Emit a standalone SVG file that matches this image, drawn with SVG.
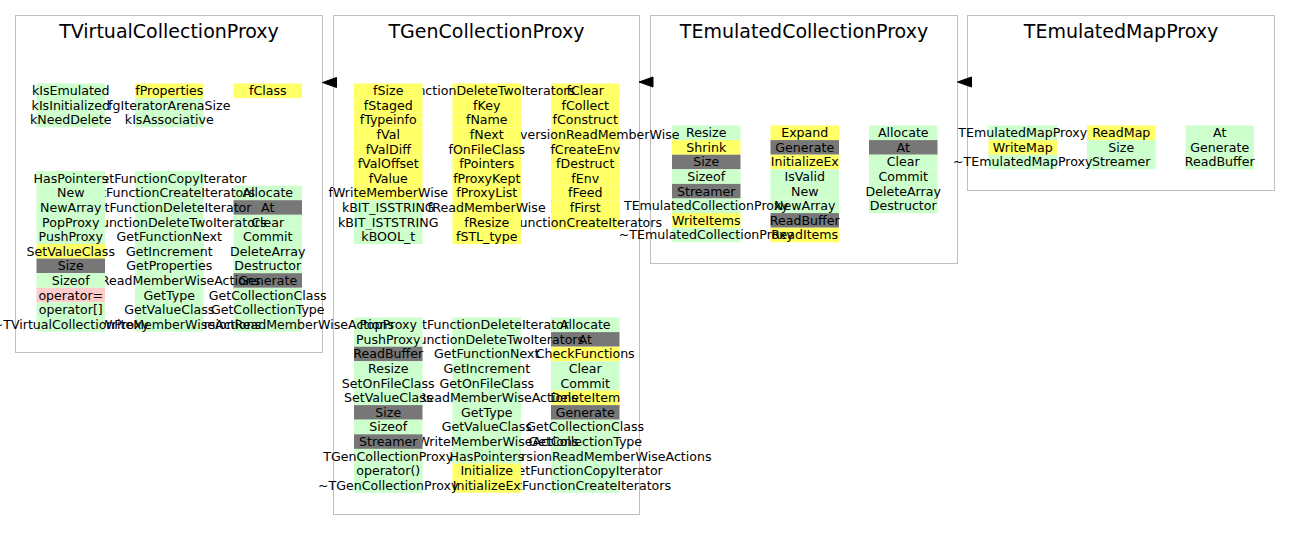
<svg xmlns="http://www.w3.org/2000/svg" width="1291" height="541" viewBox="0 0 1291 541">
<style>
.cl{fill:#ffffff;stroke:#bfbfbf;stroke-width:1}
.t{font-family:"DejaVu Sans",sans-serif;font-size:19px;text-anchor:middle;fill:#000}
text{font-family:"DejaVu Sans",sans-serif;font-size:12.6px;text-anchor:middle;fill:#000}
.g{fill:#ccffcc}
.y{fill:#ffff66}
.k{fill:#777777}
.p{fill:#ffcccc}
.ah{fill:#000;stroke:#000;stroke-width:1}
</style>
<rect width="1291" height="541" fill="#ffffff"/>
<g id="clusters">
<g id="cluster_TVirtualCollectionProxy"><rect class="cl" x="15.5" y="15.5" width="307" height="337"/><text class="t" x="169" y="37.5">TVirtualCollectionProxy</text></g>
<g id="cluster_TGenCollectionProxy"><rect class="cl" x="333.5" y="15.5" width="306" height="499"/><text class="t" x="486.5" y="37.5">TGenCollectionProxy</text></g>
<g id="cluster_TEmulatedCollectionProxy"><rect class="cl" x="650.5" y="15.5" width="307" height="248"/><text class="t" x="804" y="37.5">TEmulatedCollectionProxy</text></g>
<g id="cluster_TEmulatedMapProxy"><rect class="cl" x="967.5" y="15.5" width="307" height="175"/><text class="t" x="1121" y="37.5">TEmulatedMapProxy</text></g>
</g>

<!-- TEmulatedMapProxy -->
<g id="m_At" transform="translate(1185.5,125.5)"><rect class="g" width="68.5" height="14.6"/><text x="34.25" y="11.7">At</text></g>
<g id="m_Generate" transform="translate(1185.5,140.1)"><rect class="g" width="68.5" height="14.6"/><text x="34.25" y="11.7">Generate</text></g>
<g id="m_ReadBuffer" transform="translate(1185.5,154.7)"><rect class="g" width="68.5" height="14.6"/><text x="34.25" y="11.7">ReadBuffer</text></g>
<g id="m_ReadMap" transform="translate(1087,125.5)"><rect class="y" width="68.5" height="14.6"/><text x="34.25" y="11.7">ReadMap</text></g>
<g id="m_Size" transform="translate(1087,140.1)"><rect class="g" width="68.5" height="14.6"/><text x="34.25" y="11.7">Size</text></g>
<g id="m_Streamer" transform="translate(1087,154.7)"><rect class="g" width="68.5" height="14.6"/><text x="34.25" y="11.7">Streamer</text></g>
<g id="m_TEmulatedMapProxy" transform="translate(988.5,125.5)"><rect class="g" width="68.5" height="14.6"/><text x="34.25" y="11.7">TEmulatedMapProxy</text></g>
<g id="m_WriteMap" transform="translate(988.5,140.1)"><rect class="y" width="68.5" height="14.6"/><text x="34.25" y="11.7">WriteMap</text></g>
<g id="m_dtor" transform="translate(988.5,154.7)"><rect class="g" width="68.5" height="14.6"/><text x="34.25" y="11.7">~TEmulatedMapProxy</text></g>

<!-- TEmulatedCollectionProxy -->
<g id="e_Allocate" transform="translate(869,125.5)"><rect class="g" width="68.5" height="14.6"/><text x="34.25" y="11.7">Allocate</text></g>
<g id="e_At" transform="translate(869,140.1)"><rect class="k" width="68.5" height="14.6"/><text x="34.25" y="11.7">At</text></g>
<g id="e_Clear" transform="translate(869,154.7)"><rect class="g" width="68.5" height="14.6"/><text x="34.25" y="11.7">Clear</text></g>
<g id="e_Commit" transform="translate(869,169.3)"><rect class="g" width="68.5" height="14.6"/><text x="34.25" y="11.7">Commit</text></g>
<g id="e_DeleteArray" transform="translate(869,183.9)"><rect class="g" width="68.5" height="14.6"/><text x="34.25" y="11.7">DeleteArray</text></g>
<g id="e_Destructor" transform="translate(869,198.5)"><rect class="g" width="68.5" height="14.6"/><text x="34.25" y="11.7">Destructor</text></g>
<g id="e_Expand" transform="translate(770.5,125.5)"><rect class="y" width="68.5" height="14.6"/><text x="34.25" y="11.7">Expand</text></g>
<g id="e_Generate" transform="translate(770.5,140.1)"><rect class="k" width="68.5" height="14.6"/><text x="34.25" y="11.7">Generate</text></g>
<g id="e_InitializeEx" transform="translate(770.5,154.7)"><rect class="y" width="68.5" height="14.6"/><text x="34.25" y="11.7">InitializeEx</text></g>
<g id="e_IsValid" transform="translate(770.5,169.3)"><rect class="g" width="68.5" height="14.6"/><text x="34.25" y="11.7">IsValid</text></g>
<g id="e_New" transform="translate(770.5,183.9)"><rect class="g" width="68.5" height="14.6"/><text x="34.25" y="11.7">New</text></g>
<g id="e_NewArray" transform="translate(770.5,198.5)"><rect class="g" width="68.5" height="14.6"/><text x="34.25" y="11.7">NewArray</text></g>
<g id="e_ReadBuffer" transform="translate(770.5,213.1)"><rect class="k" width="68.5" height="14.6"/><text x="34.25" y="11.7">ReadBuffer</text></g>
<g id="e_ReadItems" transform="translate(770.5,227.7)"><rect class="y" width="68.5" height="14.6"/><text x="34.25" y="11.7">ReadItems</text></g>
<g id="e_Resize" transform="translate(672,125.5)"><rect class="g" width="68.5" height="14.6"/><text x="34.25" y="11.7">Resize</text></g>
<g id="e_Shrink" transform="translate(672,140.1)"><rect class="y" width="68.5" height="14.6"/><text x="34.25" y="11.7">Shrink</text></g>
<g id="e_Size" transform="translate(672,154.7)"><rect class="k" width="68.5" height="14.6"/><text x="34.25" y="11.7">Size</text></g>
<g id="e_Sizeof" transform="translate(672,169.3)"><rect class="g" width="68.5" height="14.6"/><text x="34.25" y="11.7">Sizeof</text></g>
<g id="e_Streamer" transform="translate(672,183.9)"><rect class="k" width="68.5" height="14.6"/><text x="34.25" y="11.7">Streamer</text></g>
<g id="e_TEmulatedCollectionProxy" transform="translate(672,198.5)"><rect class="g" width="68.5" height="14.6"/><text x="34.25" y="11.7">TEmulatedCollectionProxy</text></g>
<g id="e_WriteItems" transform="translate(672,213.1)"><rect class="y" width="68.5" height="14.6"/><text x="34.25" y="11.7">WriteItems</text></g>
<g id="e_dtor" transform="translate(672,227.7)"><rect class="g" width="68.5" height="14.6"/><text x="34.25" y="11.7">~TEmulatedCollectionProxy</text></g>

<!-- TGenCollectionProxy top, col3 -->
<g id="g_fClear" transform="translate(551,83.5)"><rect class="y" width="68.5" height="14.6"/><text x="34.25" y="11.7">fClear</text></g>
<g id="g_fCollect" transform="translate(551,98.1)"><rect class="y" width="68.5" height="14.6"/><text x="34.25" y="11.7">fCollect</text></g>
<g id="g_fConstruct" transform="translate(551,112.7)"><rect class="y" width="68.5" height="14.6"/><text x="34.25" y="11.7">fConstruct</text></g>
<g id="g_fConversionReadMemberWise" transform="translate(551,127.3)"><rect class="y" width="68.5" height="14.6"/><text x="34.25" y="11.7">fConversionReadMemberWise</text></g>
<g id="g_fCreateEnv" transform="translate(551,141.9)"><rect class="y" width="68.5" height="14.6"/><text x="34.25" y="11.7">fCreateEnv</text></g>
<g id="g_fDestruct" transform="translate(551,156.5)"><rect class="y" width="68.5" height="14.6"/><text x="34.25" y="11.7">fDestruct</text></g>
<g id="g_fEnv" transform="translate(551,171.1)"><rect class="y" width="68.5" height="14.6"/><text x="34.25" y="11.7">fEnv</text></g>
<g id="g_fFeed" transform="translate(551,185.7)"><rect class="y" width="68.5" height="14.6"/><text x="34.25" y="11.7">fFeed</text></g>
<g id="g_fFirst" transform="translate(551,200.3)"><rect class="y" width="68.5" height="14.6"/><text x="34.25" y="11.7">fFirst</text></g>
<g id="g_fFunctionCreateIterators" transform="translate(551,214.9)"><rect class="y" width="68.5" height="14.6"/><text x="34.25" y="11.7">fFunctionCreateIterators</text></g>
<!-- top col2 -->
<g id="g_fFunctionDeleteTwoIterators" transform="translate(452.5,83.5)"><rect class="y" width="68.5" height="14.6"/><text x="34.25" y="11.7">fFunctionDeleteTwoIterators</text></g>
<g id="g_fKey" transform="translate(452.5,98.1)"><rect class="y" width="68.5" height="14.6"/><text x="34.25" y="11.7">fKey</text></g>
<g id="g_fName" transform="translate(452.5,112.7)"><rect class="y" width="68.5" height="14.6"/><text x="34.25" y="11.7">fName</text></g>
<g id="g_fNext" transform="translate(452.5,127.3)"><rect class="y" width="68.5" height="14.6"/><text x="34.25" y="11.7">fNext</text></g>
<g id="g_fOnFileClass" transform="translate(452.5,141.9)"><rect class="y" width="68.5" height="14.6"/><text x="34.25" y="11.7">fOnFileClass</text></g>
<g id="g_fPointers" transform="translate(452.5,156.5)"><rect class="y" width="68.5" height="14.6"/><text x="34.25" y="11.7">fPointers</text></g>
<g id="g_fProxyKept" transform="translate(452.5,171.1)"><rect class="y" width="68.5" height="14.6"/><text x="34.25" y="11.7">fProxyKept</text></g>
<g id="g_fProxyList" transform="translate(452.5,185.7)"><rect class="y" width="68.5" height="14.6"/><text x="34.25" y="11.7">fProxyList</text></g>
<g id="g_fReadMemberWise" transform="translate(452.5,200.3)"><rect class="y" width="68.5" height="14.6"/><text x="34.25" y="11.7">fReadMemberWise</text></g>
<g id="g_fResize" transform="translate(452.5,214.9)"><rect class="y" width="68.5" height="14.6"/><text x="34.25" y="11.7">fResize</text></g>
<g id="g_fSTL_type" transform="translate(452.5,229.5)"><rect class="y" width="68.5" height="14.6"/><text x="34.25" y="11.7">fSTL_type</text></g>
<!-- top col1 -->
<g id="g_fSize" transform="translate(354,83.5)"><rect class="y" width="68.5" height="14.6"/><text x="34.25" y="11.7">fSize</text></g>
<g id="g_fStaged" transform="translate(354,98.1)"><rect class="y" width="68.5" height="14.6"/><text x="34.25" y="11.7">fStaged</text></g>
<g id="g_fTypeinfo" transform="translate(354,112.7)"><rect class="y" width="68.5" height="14.6"/><text x="34.25" y="11.7">fTypeinfo</text></g>
<g id="g_fVal" transform="translate(354,127.3)"><rect class="y" width="68.5" height="14.6"/><text x="34.25" y="11.7">fVal</text></g>
<g id="g_fValDiff" transform="translate(354,141.9)"><rect class="y" width="68.5" height="14.6"/><text x="34.25" y="11.7">fValDiff</text></g>
<g id="g_fValOffset" transform="translate(354,156.5)"><rect class="y" width="68.5" height="14.6"/><text x="34.25" y="11.7">fValOffset</text></g>
<g id="g_fValue" transform="translate(354,171.1)"><rect class="y" width="68.5" height="14.6"/><text x="34.25" y="11.7">fValue</text></g>
<g id="g_fWriteMemberWise" transform="translate(354,185.7)"><rect class="y" width="68.5" height="14.6"/><text x="34.25" y="11.7">fWriteMemberWise</text></g>
<g id="g_kBIT_ISSTRING" transform="translate(354,200.3)"><rect class="g" width="68.5" height="14.6"/><text x="34.25" y="11.7">kBIT_ISSTRING</text></g>
<g id="g_kBIT_ISTSTRING" transform="translate(354,214.9)"><rect class="g" width="68.5" height="14.6"/><text x="34.25" y="11.7">kBIT_ISTSTRING</text></g>
<g id="g_kBOOL_t" transform="translate(354,229.5)"><rect class="g" width="68.5" height="14.6"/><text x="34.25" y="11.7">kBOOL_t</text></g>

<!-- TGenCollectionProxy bottom col3 -->
<g id="g_Allocate" transform="translate(551,317.5)"><rect class="g" width="68.5" height="14.6"/><text x="34.25" y="11.7">Allocate</text></g>
<g id="g_At" transform="translate(551,332.1)"><rect class="k" width="68.5" height="14.6"/><text x="34.25" y="11.7">At</text></g>
<g id="g_CheckFunctions" transform="translate(551,346.7)"><rect class="y" width="68.5" height="14.6"/><text x="34.25" y="11.7">CheckFunctions</text></g>
<g id="g_Clear" transform="translate(551,361.3)"><rect class="g" width="68.5" height="14.6"/><text x="34.25" y="11.7">Clear</text></g>
<g id="g_Commit" transform="translate(551,375.9)"><rect class="g" width="68.5" height="14.6"/><text x="34.25" y="11.7">Commit</text></g>
<g id="g_DeleteItem" transform="translate(551,390.5)"><rect class="y" width="68.5" height="14.6"/><text x="34.25" y="11.7">DeleteItem</text></g>
<g id="g_Generate" transform="translate(551,405.1)"><rect class="k" width="68.5" height="14.6"/><text x="34.25" y="11.7">Generate</text></g>
<g id="g_GetCollectionClass" transform="translate(551,419.7)"><rect class="g" width="68.5" height="14.6"/><text x="34.25" y="11.7">GetCollectionClass</text></g>
<g id="g_GetCollectionType" transform="translate(551,434.3)"><rect class="g" width="68.5" height="14.6"/><text x="34.25" y="11.7">GetCollectionType</text></g>
<g id="g_GetConversionReadMemberWiseActions" transform="translate(551,448.9)"><rect class="g" width="68.5" height="14.6"/><text x="34.25" y="11.7">GetConversionReadMemberWiseActions</text></g>
<g id="g_GetFunctionCopyIterator" transform="translate(551,463.5)"><rect class="g" width="68.5" height="14.6"/><text x="34.25" y="11.7">GetFunctionCopyIterator</text></g>
<g id="g_GetFunctionCreateIterators" transform="translate(551,478.1)"><rect class="g" width="68.5" height="14.6"/><text x="34.25" y="11.7">GetFunctionCreateIterators</text></g>
<!-- bottom col2 -->
<g id="g_GetFunctionDeleteIterator" transform="translate(452.5,317.5)"><rect class="g" width="68.5" height="14.6"/><text x="34.25" y="11.7">GetFunctionDeleteIterator</text></g>
<g id="g_GetFunctionDeleteTwoIterators" transform="translate(452.5,332.1)"><rect class="g" width="68.5" height="14.6"/><text x="34.25" y="11.7">GetFunctionDeleteTwoIterators</text></g>
<g id="g_GetFunctionNext" transform="translate(452.5,346.7)"><rect class="g" width="68.5" height="14.6"/><text x="34.25" y="11.7">GetFunctionNext</text></g>
<g id="g_GetIncrement" transform="translate(452.5,361.3)"><rect class="g" width="68.5" height="14.6"/><text x="34.25" y="11.7">GetIncrement</text></g>
<g id="g_GetOnFileClass" transform="translate(452.5,375.9)"><rect class="g" width="68.5" height="14.6"/><text x="34.25" y="11.7">GetOnFileClass</text></g>
<g id="g_GetReadMemberWiseActions" transform="translate(452.5,390.5)"><rect class="g" width="68.5" height="14.6"/><text x="34.25" y="11.7">GetReadMemberWiseActions</text></g>
<g id="g_GetType" transform="translate(452.5,405.1)"><rect class="g" width="68.5" height="14.6"/><text x="34.25" y="11.7">GetType</text></g>
<g id="g_GetValueClass" transform="translate(452.5,419.7)"><rect class="g" width="68.5" height="14.6"/><text x="34.25" y="11.7">GetValueClass</text></g>
<g id="g_GetWriteMemberWiseActions" transform="translate(452.5,434.3)"><rect class="g" width="68.5" height="14.6"/><text x="34.25" y="11.7">GetWriteMemberWiseActions</text></g>
<g id="g_HasPointers" transform="translate(452.5,448.9)"><rect class="g" width="68.5" height="14.6"/><text x="34.25" y="11.7">HasPointers</text></g>
<g id="g_Initialize" transform="translate(452.5,463.5)"><rect class="y" width="68.5" height="14.6"/><text x="34.25" y="11.7">Initialize</text></g>
<g id="g_InitializeEx" transform="translate(452.5,478.1)"><rect class="y" width="68.5" height="14.6"/><text x="34.25" y="11.7">InitializeEx</text></g>
<!-- bottom col1 -->
<g id="g_PopProxy" transform="translate(354,317.5)"><rect class="g" width="68.5" height="14.6"/><text x="34.25" y="11.7">PopProxy</text></g>
<g id="g_PushProxy" transform="translate(354,332.1)"><rect class="g" width="68.5" height="14.6"/><text x="34.25" y="11.7">PushProxy</text></g>
<g id="g_ReadBuffer" transform="translate(354,346.7)"><rect class="k" width="68.5" height="14.6"/><text x="34.25" y="11.7">ReadBuffer</text></g>
<g id="g_Resize" transform="translate(354,361.3)"><rect class="g" width="68.5" height="14.6"/><text x="34.25" y="11.7">Resize</text></g>
<g id="g_SetOnFileClass" transform="translate(354,375.9)"><rect class="g" width="68.5" height="14.6"/><text x="34.25" y="11.7">SetOnFileClass</text></g>
<g id="g_SetValueClass" transform="translate(354,390.5)"><rect class="g" width="68.5" height="14.6"/><text x="34.25" y="11.7">SetValueClass</text></g>
<g id="g_Size" transform="translate(354,405.1)"><rect class="k" width="68.5" height="14.6"/><text x="34.25" y="11.7">Size</text></g>
<g id="g_Sizeof" transform="translate(354,419.7)"><rect class="g" width="68.5" height="14.6"/><text x="34.25" y="11.7">Sizeof</text></g>
<g id="g_Streamer" transform="translate(354,434.3)"><rect class="k" width="68.5" height="14.6"/><text x="34.25" y="11.7">Streamer</text></g>
<g id="g_TGenCollectionProxy" transform="translate(354,448.9)"><rect class="g" width="68.5" height="14.6"/><text x="34.25" y="11.7">TGenCollectionProxy</text></g>
<g id="g_operator_call" transform="translate(354,463.5)"><rect class="g" width="68.5" height="14.6"/><text x="34.25" y="11.7">operator()</text></g>
<g id="g_dtor" transform="translate(354,478.1)"><rect class="g" width="68.5" height="14.6"/><text x="34.25" y="11.7">~TGenCollectionProxy</text></g>

<!-- TVirtualCollectionProxy top -->
<g id="v_fClass" transform="translate(233.5,83.5)"><rect class="y" width="68.5" height="14.6"/><text x="34.25" y="11.7">fClass</text></g>
<g id="v_fProperties" transform="translate(135,83.5)"><rect class="y" width="68.5" height="14.6"/><text x="34.25" y="11.7">fProperties</text></g>
<g id="v_fgIteratorArenaSize" transform="translate(135,98.1)"><rect class="g" width="68.5" height="14.6"/><text x="34.25" y="11.7">fgIteratorArenaSize</text></g>
<g id="v_kIsAssociative" transform="translate(135,112.7)"><rect class="g" width="68.5" height="14.6"/><text x="34.25" y="11.7">kIsAssociative</text></g>
<g id="v_kIsEmulated" transform="translate(36.5,83.5)"><rect class="g" width="68.5" height="14.6"/><text x="34.25" y="11.7">kIsEmulated</text></g>
<g id="v_kIsInitialized" transform="translate(36.5,98.1)"><rect class="g" width="68.5" height="14.6"/><text x="34.25" y="11.7">kIsInitialized</text></g>
<g id="v_kNeedDelete" transform="translate(36.5,112.7)"><rect class="g" width="68.5" height="14.6"/><text x="34.25" y="11.7">kNeedDelete</text></g>

<!-- TVirtualCollectionProxy bottom col3 -->
<g id="v_Allocate" transform="translate(233.5,185.6)"><rect class="g" width="68.5" height="14.6"/><text x="34.25" y="11.7">Allocate</text></g>
<g id="v_At" transform="translate(233.5,200.2)"><rect class="k" width="68.5" height="14.6"/><text x="34.25" y="11.7">At</text></g>
<g id="v_Clear" transform="translate(233.5,214.8)"><rect class="g" width="68.5" height="14.6"/><text x="34.25" y="11.7">Clear</text></g>
<g id="v_Commit" transform="translate(233.5,229.4)"><rect class="g" width="68.5" height="14.6"/><text x="34.25" y="11.7">Commit</text></g>
<g id="v_DeleteArray" transform="translate(233.5,244)"><rect class="g" width="68.5" height="14.6"/><text x="34.25" y="11.7">DeleteArray</text></g>
<g id="v_Destructor" transform="translate(233.5,258.6)"><rect class="g" width="68.5" height="14.6"/><text x="34.25" y="11.7">Destructor</text></g>
<g id="v_Generate" transform="translate(233.5,273.2)"><rect class="k" width="68.5" height="14.6"/><text x="34.25" y="11.7">Generate</text></g>
<g id="v_GetCollectionClass" transform="translate(233.5,287.8)"><rect class="g" width="68.5" height="14.6"/><text x="34.25" y="11.7">GetCollectionClass</text></g>
<g id="v_GetCollectionType" transform="translate(233.5,302.4)"><rect class="g" width="68.5" height="14.6"/><text x="34.25" y="11.7">GetCollectionType</text></g>
<g id="v_GetConversionReadMemberWiseActions" transform="translate(233.5,317)"><rect class="g" width="68.5" height="14.6"/><text x="34.25" y="11.7">GetConversionReadMemberWiseActions</text></g>
<!-- bottom col2 -->
<g id="v_GetFunctionCopyIterator" transform="translate(135,171)"><rect class="g" width="68.5" height="14.6"/><text x="34.25" y="11.7">GetFunctionCopyIterator</text></g>
<g id="v_GetFunctionCreateIterators" transform="translate(135,185.6)"><rect class="g" width="68.5" height="14.6"/><text x="34.25" y="11.7">GetFunctionCreateIterators</text></g>
<g id="v_GetFunctionDeleteIterator" transform="translate(135,200.2)"><rect class="g" width="68.5" height="14.6"/><text x="34.25" y="11.7">GetFunctionDeleteIterator</text></g>
<g id="v_GetFunctionDeleteTwoIterators" transform="translate(135,214.8)"><rect class="g" width="68.5" height="14.6"/><text x="34.25" y="11.7">GetFunctionDeleteTwoIterators</text></g>
<g id="v_GetFunctionNext" transform="translate(135,229.4)"><rect class="g" width="68.5" height="14.6"/><text x="34.25" y="11.7">GetFunctionNext</text></g>
<g id="v_GetIncrement" transform="translate(135,244)"><rect class="g" width="68.5" height="14.6"/><text x="34.25" y="11.7">GetIncrement</text></g>
<g id="v_GetProperties" transform="translate(135,258.6)"><rect class="g" width="68.5" height="14.6"/><text x="34.25" y="11.7">GetProperties</text></g>
<g id="v_GetReadMemberWiseActions" transform="translate(135,273.2)"><rect class="g" width="68.5" height="14.6"/><text x="34.25" y="11.7">GetReadMemberWiseActions</text></g>
<g id="v_GetType" transform="translate(135,287.8)"><rect class="g" width="68.5" height="14.6"/><text x="34.25" y="11.7">GetType</text></g>
<g id="v_GetValueClass" transform="translate(135,302.4)"><rect class="g" width="68.5" height="14.6"/><text x="34.25" y="11.7">GetValueClass</text></g>
<g id="v_GetWriteMemberWiseActions" transform="translate(135,317)"><rect class="g" width="68.5" height="14.6"/><text x="34.25" y="11.7">GetWriteMemberWiseActions</text></g>
<!-- bottom col1 -->
<g id="v_HasPointers" transform="translate(36.5,171)"><rect class="g" width="68.5" height="14.6"/><text x="34.25" y="11.7">HasPointers</text></g>
<g id="v_New" transform="translate(36.5,185.6)"><rect class="g" width="68.5" height="14.6"/><text x="34.25" y="11.7">New</text></g>
<g id="v_NewArray" transform="translate(36.5,200.2)"><rect class="g" width="68.5" height="14.6"/><text x="34.25" y="11.7">NewArray</text></g>
<g id="v_PopProxy" transform="translate(36.5,214.8)"><rect class="g" width="68.5" height="14.6"/><text x="34.25" y="11.7">PopProxy</text></g>
<g id="v_PushProxy" transform="translate(36.5,229.4)"><rect class="g" width="68.5" height="14.6"/><text x="34.25" y="11.7">PushProxy</text></g>
<g id="v_SetValueClass" transform="translate(36.5,244)"><rect class="y" width="68.5" height="14.6"/><text x="34.25" y="11.7">SetValueClass</text></g>
<g id="v_Size" transform="translate(36.5,258.6)"><rect class="k" width="68.5" height="14.6"/><text x="34.25" y="11.7">Size</text></g>
<g id="v_Sizeof" transform="translate(36.5,273.2)"><rect class="g" width="68.5" height="14.6"/><text x="34.25" y="11.7">Sizeof</text></g>
<g id="v_operator_assign" transform="translate(36.5,287.8)"><rect class="p" width="68.5" height="14.6"/><text x="34.25" y="11.7">operator=</text></g>
<g id="v_operator_index" transform="translate(36.5,302.4)"><rect class="g" width="68.5" height="14.6"/><text x="34.25" y="11.7">operator[]</text></g>
<g id="v_dtor" transform="translate(36.5,317)"><rect class="g" width="68.5" height="14.6"/><text x="34.25" y="11.7">~TVirtualCollectionProxy</text></g>

<g id="connectors">
<polygon class="ah" points="322.5,82.5 336.5,77.5 336.5,87.5"/>
<polygon class="ah" points="639,82 653,77 653,87"/>
<polygon class="ah" points="957.5,82 971.5,77 971.5,87"/>
</g>
</svg>
